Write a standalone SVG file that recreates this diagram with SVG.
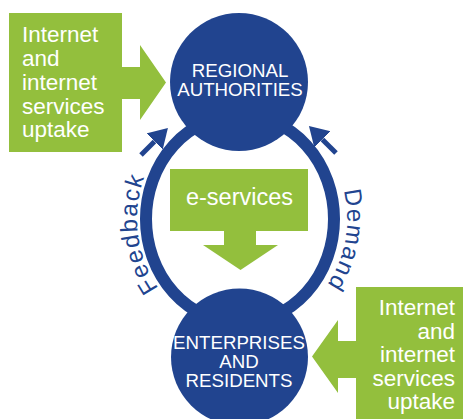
<svg xmlns="http://www.w3.org/2000/svg" width="463" height="419" viewBox="0 0 463 419">
<style>
.blue{fill:#21448F}
.green{fill:#93BF3D}
.ctext{font-family:"Liberation Sans",Arial,sans-serif;font-size:18.7px;fill:#fff;text-anchor:middle}
.gtext{font-family:"Liberation Sans",Arial,sans-serif;font-size:22.5px;fill:#fff}
.etext{font-family:"Liberation Sans",Arial,sans-serif;font-size:23.5px;fill:#fff;text-anchor:middle}
.loop{font-family:"Liberation Sans",Arial,sans-serif;font-size:24px;fill:#21448F;letter-spacing:1.5px}
.ring{fill:none;stroke:#21448F;stroke-width:12}
.small{stroke:#21448F;stroke-width:5;fill:none}
</style>
<defs>
<marker id="head" markerUnits="userSpaceOnUse" markerWidth="20" markerHeight="24" refX="0" refY="11.5" orient="auto">
<path d="M0,0 L19,11.5 L0,23 Z" fill="#21448F"/>
</marker>
<path id="pFeedback" d="M185.4,314.8 A103,113 0 0 1 163.5,143.4"/>
<path id="pDemand" d="M323.4,147.9 A107,113 0 0 1 291.9,317.8"/>
</defs>
<g id="connectors">
<ellipse class="ring" cx="240" cy="219" rx="94" ry="104"/>
<line class="small" x1="141" y1="155" x2="154.5" y2="141.5" marker-end="url(#head)"/>
<line class="small" x1="336" y1="153" x2="322.4" y2="139.4" marker-end="url(#head)"/>
<text class="loop" text-anchor="middle"><textPath href="#pFeedback" startOffset="50%">Feedback</textPath></text>
<text class="loop" text-anchor="middle"><textPath href="#pDemand" startOffset="50%">Demand</textPath></text>
</g>
<g id="node-regional">
<circle class="blue" cx="239" cy="82" r="69"/>
<text class="ctext" x="240" y="77">REGIONAL</text>
<text class="ctext" x="240" y="96">AUTHORITIES</text>
</g>
<g id="node-enterprises">
<circle class="blue" cx="239.5" cy="357" r="68.5"/>
<text class="ctext" x="239" y="349">ENTERPRISES</text>
<text class="ctext" x="239" y="368">AND</text>
<text class="ctext" x="239" y="387">RESIDENTS</text>
</g>
<g id="node-uptake-top">
<rect class="green" x="9" y="13" width="113" height="139"/>
<polygon class="green" points="121,67 140,67 140,45 166,82.5 140,120 140,99 121,99"/>
<text class="gtext" x="22" y="42">Internet</text>
<text class="gtext" x="22" y="66">and</text>
<text class="gtext" x="22" y="90">internet</text>
<text class="gtext" x="22" y="114">services</text>
<text class="gtext" x="22" y="137">uptake</text>
</g>
<g id="node-uptake-bottom">
<rect class="green" x="356" y="287" width="107" height="132"/>
<polygon class="green" points="357,341 338,341 338,320 312,356.5 338,393 338,378 357,378"/>
<text class="gtext" x="455" y="315" text-anchor="end">Internet</text>
<text class="gtext" x="455" y="338.5" text-anchor="end">and</text>
<text class="gtext" x="455" y="362" text-anchor="end">internet</text>
<text class="gtext" x="455" y="385.5" text-anchor="end">services</text>
<text class="gtext" x="455" y="409" text-anchor="end">uptake</text>
</g>
<g id="node-eservices">
<rect class="green" x="170" y="169" width="138" height="62"/>
<polygon class="green" points="224,230 224,245 203,245 240.5,270 278,245 256,245 256,230"/>
<text class="etext" x="239.5" y="205">e-services</text>
</g>
</svg>
